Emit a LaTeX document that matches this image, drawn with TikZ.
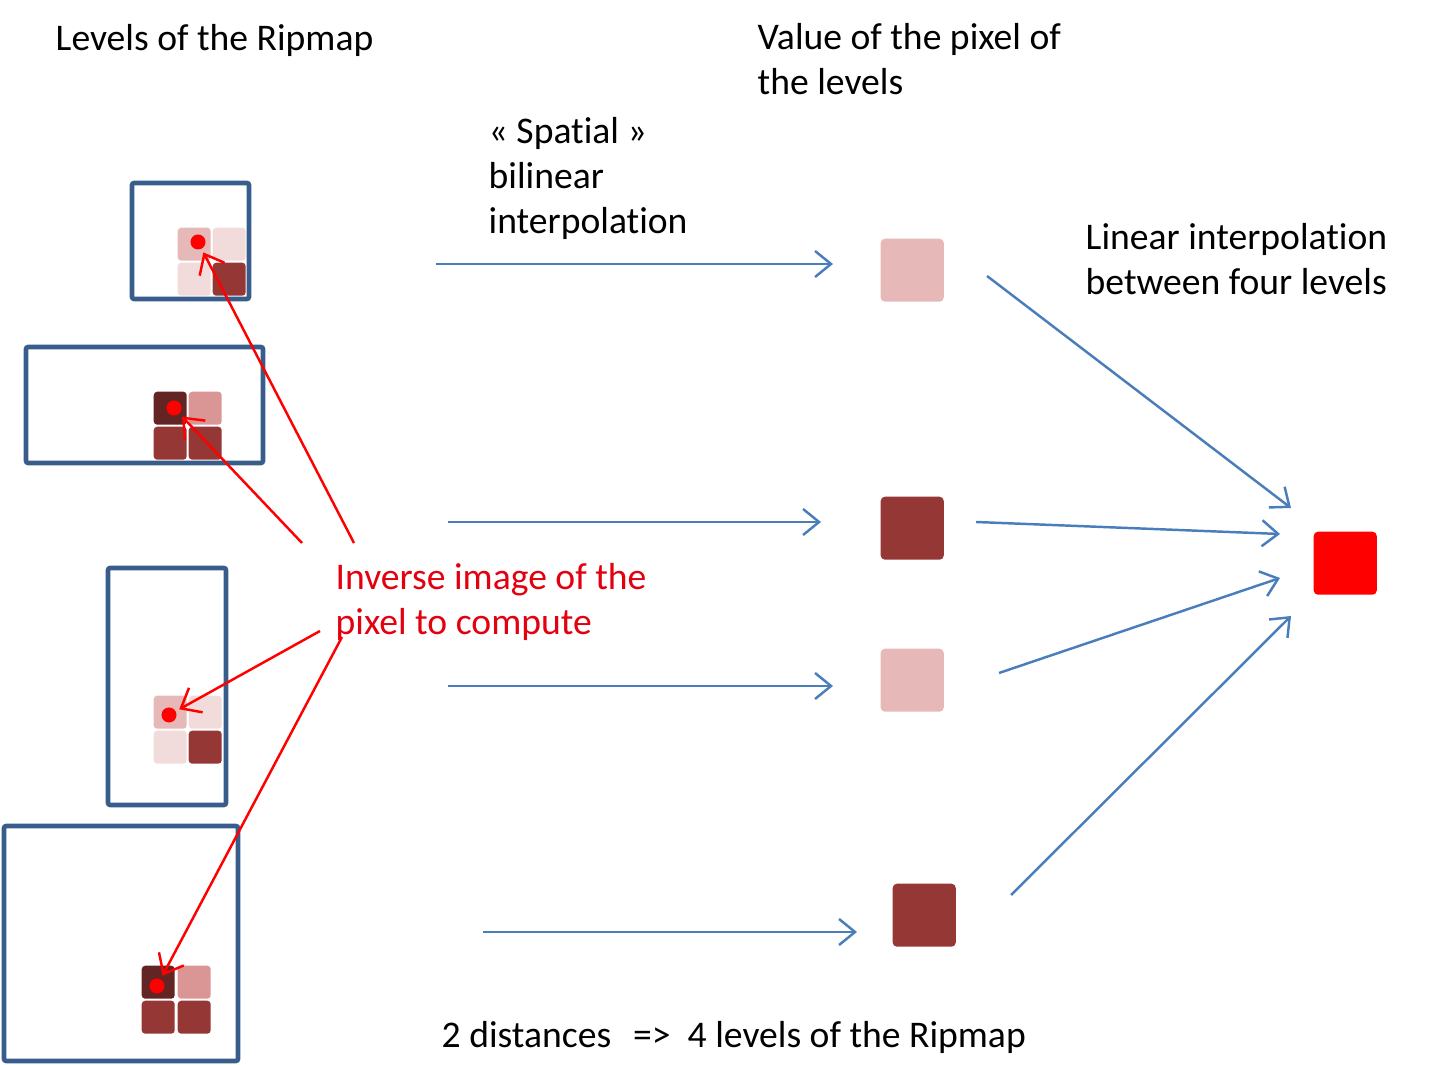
\documentclass[tikz,border=0pt]{standalone}
\usepackage{fontspec}
\setmainfont{Carlito}[Ligatures=NoCommon]
\usetikzlibrary{arrows.meta,positioning}

\definecolor{ripLight}{HTML}{F2DCDB}
\definecolor{ripPink}{HTML}{E6B9B8}
\definecolor{ripRose}{HTML}{D99694}
\definecolor{ripDark}{HTML}{953735}
\definecolor{ripDeep}{HTML}{632523}
\definecolor{boxBlue}{HTML}{385D8A}
\definecolor{flowBlue}{HTML}{4A7EBB}
\definecolor{invRed}{HTML}{E3000F}

\begin{document}
\begin{tikzpicture}[x=0.01cm,y=-0.01cm,
    font=\fontsize{10.7pt}{12.8pt}\selectfont,
    txt/.style={anchor=base west,inner sep=0pt,align=left},
    levelbox/.style={draw=boxBlue,line width=1.3pt,rounded corners=0.6pt},
    cell/.style={anchor=north west,inner sep=0pt,minimum size=0.33cm,rounded corners=1pt},
    value/.style={anchor=north west,inner sep=0pt,minimum size=0.63cm,rounded corners=1.2pt},
    dot/.style={circle,fill=red,inner sep=0pt,minimum size=0.15cm},
    flow/.style={color=flowBlue,line width=0.7pt,-{Straight Barb[length=1.6mm,width=2.6mm]}},
    hint/.style={color=red,line width=0.7pt,shorten >=1pt,-{Straight Barb[length=1.7mm,width=2.8mm]}}]
  \useasboundingbox (0,0) rectangle (1434,1065);

  % levels of the ripmap
  \draw[levelbox] (132,183) rectangle (249,299);
  \draw[levelbox] (26,347) rectangle (263,463);
  \draw[levelbox] (108,568) rectangle (226,805);
  \draw[levelbox] (4,826) rectangle (238,1061);

  \foreach \x/\y/\c [count=\i] in {177/227/ripPink,212/227/ripLight,177/262/ripLight,212/262/ripDark,
      153/391/ripDeep,188/391/ripRose,153/426/ripDark,188/426/ripDark,
      153/695/ripPink,188/695/ripLight,153/730/ripLight,188/730/ripDark,
      141/965/ripDeep,177/965/ripRose,141/1000/ripDark,177/1000/ripDark}
    \node[cell,fill=\c] (c\i) at (\x,\y) {};

  \node[dot] (d1) at (198,242) {};
  \node[dot] (d2) at (174,408) {};
  \node[dot] (d3) at (169,715) {};
  \node[dot] (d4) at (157,986) {};

  % values of the levels
  \node[value,fill=ripPink] (sq1) at (880,238) {};
  \node[value,fill=ripDark] (sq2) at (880,496) {};
  \node[value,fill=ripPink] (sq3) at (880,648) {};
  \node[value,fill=ripDark] (sq4) at (892,883) {};
  \node[value,fill=red] (res) at (1313,531) {};

  % texts (multi-line ones sit on their last line)
  \node[txt] (ttl) at (55,51) {Levels of the Ripmap};
  \node[txt] (val) at (757,95) {Value of the pixel of\\the levels};
  \node[txt] (spa) at (488,234) {« Spatial »\\bilinear\\interpolation};
  \node[txt] (lin) at (1085,295) {Linear interpolation\\between four levels};
  \node[txt,text=invRed] (inv) at (335,635) {Inverse image of the\\pixel to compute};
  \node[txt] (note) at (441,1047) {2 distances\hspace{0.22cm}=>\hspace{0.17cm}4 levels of the Ripmap};

  % arrows
  \coordinate (b1) at (436,264);  \coordinate (e1) at (833,264);
  \coordinate (b2) at (448,522);  \coordinate (e2) at (821,522);
  \coordinate (b3) at (448,686);  \coordinate (e3) at (833,686);
  \coordinate (b4) at (483,932);  \coordinate (e4) at (857,932);
  \coordinate (m1) at (987,276);  \coordinate (n1) at (1291,508);
  \coordinate (m2) at (976,522);  \coordinate (n2) at (1280,534);
  \coordinate (m3) at (999,673);  \coordinate (n3) at (1280,578);
  \coordinate (m4) at (1011,895); \coordinate (n4) at (1291,616);
  \path[flow]
    (b1) edge (e1)
    (b2) edge (e2)
    (b3) edge (e3)
    (b4) edge (e4)
    (m1) edge (n1)
    (m2) edge (n2)
    (m3) edge (n3)
    (m4) edge (n4);

  \coordinate (r1) at (354,543);
  \coordinate (r2) at (302,543);
  \coordinate (r3) at (320,631);
  \coordinate (r4) at (342,637);
  \path[hint]
    (r1) edge (d1)
    (r2) edge (d2)
    (r3) edge (d3)
    (r4) edge (d4);
\end{tikzpicture}
\end{document}
